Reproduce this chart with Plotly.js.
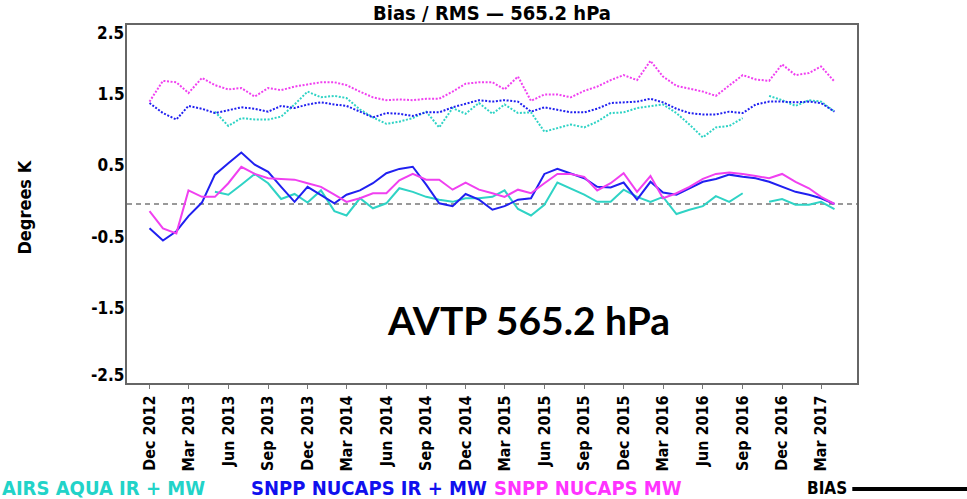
<!DOCTYPE html>
<html>
<head>
<meta charset="utf-8">
<script src="https://cdn.plot.ly/plotly-3.0.1.min.js"></script>
<style>
html,body{margin:0;padding:0;background:#fff;}
#chart{width:967px;height:499px;}
</style>
</head>
<body>
<div id="chart"></div>
<script>
// Monthly dates, Dec 2012 .. Apr 2017
const months = [
 '2012-12-01',
 '2013-01-01','2013-02-01','2013-03-01','2013-04-01','2013-05-01','2013-06-01','2013-07-01','2013-08-01','2013-09-01','2013-10-01','2013-11-01','2013-12-01',
 '2014-01-01','2014-02-01','2014-03-01','2014-04-01','2014-05-01','2014-06-01','2014-07-01','2014-08-01','2014-09-01','2014-10-01','2014-11-01','2014-12-01',
 '2015-01-01','2015-02-01','2015-03-01','2015-04-01','2015-05-01','2015-06-01','2015-07-01','2015-08-01','2015-09-01','2015-10-01','2015-11-01','2015-12-01',
 '2016-01-01','2016-02-01','2016-03-01','2016-04-01','2016-05-01','2016-06-01','2016-07-01','2016-08-01','2016-09-01','2016-10-01','2016-11-01','2016-12-01',
 '2017-01-01','2017-02-01','2017-03-01','2017-04-01'
];

const tickDates = ['2012-12-01','2013-03-01','2013-06-01','2013-09-01','2013-12-01','2014-03-01','2014-06-01','2014-09-01','2014-12-01','2015-03-01','2015-06-01','2015-09-01','2015-12-01','2016-03-01','2016-06-01','2016-09-01','2016-12-01','2017-03-01'];
const tickLabels = ['Dec 2012','Mar 2013','Jun 2013','Sep 2013','Dec 2013','Mar 2014','Jun 2014','Sep 2014','Dec 2014','Mar 2015','Jun 2015','Sep 2015','Dec 2015','Mar 2016','Jun 2016','Sep 2016','Dec 2016','Mar 2017'];
const yTicks = [1.5, 0.5, -0.5, -1.5];
const yTickLabels = ['1.5', '0.5', '-0.5', '-1.5'];
const yEndTicks = [2.5, -2.5];
const yEndLabels = ['2.5', '-2.5'];

// RMS (dotted)
const airsRMS = [null,null,null,null,null,1.29,1.09,1.20,1.18,1.18,1.22,1.39,1.57,1.49,1.51,1.48,1.32,1.21,1.12,1.15,1.20,1.29,1.07,1.34,1.26,1.41,1.26,1.39,1.27,1.28,1.01,1.06,1.11,1.07,1.15,1.27,1.28,1.34,1.37,1.39,1.27,1.11,0.93,1.07,1.09,1.20,null,1.51,1.45,1.37,1.45,1.43,1.29];
const nucapsIrMwRMS = [1.41,1.27,1.18,1.37,1.33,1.27,1.31,1.35,1.33,1.29,1.37,1.34,1.39,1.42,1.39,1.37,1.29,1.21,1.27,1.26,1.23,1.28,1.28,1.35,1.40,1.45,1.43,1.45,1.43,1.29,1.35,1.32,1.28,1.28,1.33,1.41,1.42,1.43,1.47,1.42,1.33,1.27,1.25,1.25,1.29,1.27,1.39,1.43,1.43,1.42,1.43,1.41,1.29];
const nucapsMwRMS = [1.43,1.72,1.70,1.55,1.76,1.66,1.60,1.62,1.50,1.62,1.59,1.64,1.67,1.70,1.70,1.66,1.57,1.49,1.45,1.46,1.45,1.47,1.47,1.57,1.68,1.70,1.70,1.60,1.78,1.44,1.53,1.53,1.49,1.58,1.64,1.73,1.80,1.73,2.00,1.78,1.65,1.61,1.57,1.51,1.66,1.80,1.74,1.72,1.95,1.80,1.83,1.92,1.71];

// BIAS (solid)
const airsBias = [null,null,null,null,null,0.17,0.13,0.27,0.42,0.29,0.07,0.14,0.02,0.19,-0.10,-0.16,0.08,-0.06,0.01,0.22,0.17,0.10,0.06,0.03,0.08,0.08,0.10,0.19,-0.07,-0.16,-0.01,0.30,0.22,0.13,0.03,0.03,0.20,0.10,0.03,0.10,-0.14,-0.08,-0.03,0.11,0.03,0.15,null,0.03,0.07,-0.01,-0.01,0.03,-0.07];
const nucapsIrMwBias = [-0.34,-0.51,-0.38,-0.17,0.02,0.41,0.57,0.72,0.55,0.45,0.24,0.03,0.24,0.13,0.01,0.13,0.19,0.29,0.43,0.49,0.52,0.27,0.01,-0.03,0.14,0.06,-0.08,-0.03,0.06,0.08,0.42,0.49,0.42,0.36,0.24,0.23,0.30,0.06,0.31,0.16,0.13,0.22,0.31,0.35,0.41,0.38,0.36,0.31,0.24,0.17,0.13,0.08,0.00];
const nucapsMwBias = [-0.10,-0.34,-0.41,0.19,0.10,0.10,0.29,0.52,0.42,0.36,0.35,0.34,0.29,0.24,0.13,0.03,0.08,0.15,0.15,0.33,0.42,0.34,0.34,0.20,0.30,0.20,0.15,0.10,0.20,0.15,0.29,0.42,0.42,0.38,0.19,0.29,0.43,0.17,0.39,0.08,0.15,0.24,0.35,0.42,0.44,0.42,0.39,0.36,0.42,0.31,0.22,0.10,0.00];

const seriesNames = ['AIRS AQUA IR + MW', 'SNPP NUCAPS IR + MW', 'SNPP NUCAPS MW'];
const colors = ['#2fd3c5', '#2020f0', '#f040f0'];
const legendColors = ['#22d3c8', '#1010ee', '#ff33ff'];

const FONT = 'DejaVu Sans Condensed, DejaVu Sans, sans-serif';

const rmsSets = [airsRMS, nucapsIrMwRMS, nucapsMwRMS];
const biasSets = [airsBias, nucapsIrMwBias, nucapsMwBias];

const traces = [];
rmsSets.forEach((ys, k) => {
  traces.push({
    x: months, y: ys, type: 'scatter', mode: 'lines', name: seriesNames[k] + ' RMS',
    connectgaps: false,
    line: {color: colors[k], width: 2, dash: '2px,1.6px'},
    hoverinfo: 'skip'
  });
});
biasSets.forEach((ys, k) => {
  traces.push({
    x: months, y: ys, type: 'scatter', mode: 'lines', name: seriesNames[k] + ' BIAS',
    connectgaps: false,
    line: {color: colors[k], width: 2},
    hoverinfo: 'skip'
  });
});

const tickFont = {family: FONT, size: 17, color: '#000', weight: 'bold'};

const annotations = [
  // end labels of the y axis, kept inside the frame as in the reference
  {text: yEndLabels[0], xref: 'paper', yref: 'y', x: 0, y: yEndTicks[0], xanchor: 'right', yanchor: 'top',
   xshift: -1, yshift: 4, showarrow: false, font: tickFont},
  {text: yEndLabels[1], xref: 'paper', yref: 'y', x: 0, y: yEndTicks[1], xanchor: 'right', yanchor: 'bottom',
   xshift: -1, yshift: -4, showarrow: false, font: tickFont},
  {text: 'AVTP 565.2 hPa', xref: 'paper', yref: 'paper', x: (528 - 127.3) / 729.4, y: (383 - 320) / 358,
   xanchor: 'center', yanchor: 'middle', showarrow: false,
   font: {family: 'Lato, Open Sans, sans-serif', size: 39, color: '#000', weight: 'bold'}},
  {text: 'Degrees K', xref: 'paper', yref: 'paper', x: (24 - 127.3) / 729.4, y: (383 - 207) / 358,
   xanchor: 'center', yanchor: 'middle', textangle: -90, showarrow: false,
   font: {family: FONT, size: 18, color: '#000', weight: 'bold'}},
  {text: seriesNames[0], xref: 'paper', yref: 'paper', x: (0 - 127.3) / 729.4, y: (383 - 488) / 358,
   xanchor: 'left', yanchor: 'middle', showarrow: false,
   font: {family: FONT, size: 20, color: legendColors[0], weight: 'bold'}},
  {text: seriesNames[1], xref: 'paper', yref: 'paper', x: (249 - 127.3) / 729.4, y: (383 - 488) / 358,
   xanchor: 'left', yanchor: 'middle', showarrow: false,
   font: {family: FONT, size: 20, color: legendColors[1], weight: 'bold'}},
  {text: seriesNames[2], xref: 'paper', yref: 'paper', x: (492 - 127.3) / 729.4, y: (383 - 488) / 358,
   xanchor: 'left', yanchor: 'middle', showarrow: false,
   font: {family: FONT, size: 20, color: legendColors[2], weight: 'bold'}},
  {text: 'BIAS', xref: 'paper', yref: 'paper', x: (805 - 127.3) / 729.4, y: (383 - 488) / 358,
   xanchor: 'left', yanchor: 'middle', showarrow: false,
   font: {family: FONT, size: 17, color: '#000', weight: 'bold'}}
];

const shapes = [
  {type: 'line', xref: 'paper', yref: 'y', x0: 0, x1: 1, y0: 0, y1: 0,
   line: {color: '#999', width: 2, dash: '5px,4px'}, layer: 'below'},
  {type: 'line', xref: 'paper', yref: 'paper', x0: (852 - 127.3) / 729.4, x1: (967 - 127.3) / 729.4,
   y0: (383 - 489) / 358, y1: (383 - 489) / 358, line: {color: '#000', width: 4}}
];

const layout = {
  width: 967, height: 499,
  margin: {l: 127, r: 110, t: 25, b: 116},
  paper_bgcolor: '#fff', plot_bgcolor: '#fff',
  showlegend: false,
  title: {text: 'Bias / RMS \u2014 565.2 hPa', xref: 'paper', x: 0.5, xanchor: 'center',
          yref: 'container', y: 1 - 13 / 499, yanchor: 'middle',
          font: {family: FONT, size: 20, color: '#000', weight: 'bold'}},
  xaxis: {
    type: 'date', range: ['2012-10-10', '2017-05-23'],
    tickmode: 'array', tickvals: tickDates, ticktext: tickLabels, tickangle: -90,
    ticks: 'outside', ticklen: 4, tickcolor: '#777', tickwidth: 1,
    showgrid: false, zeroline: false,
    showline: true, mirror: true, linecolor: '#666', linewidth: 2,
    tickfont: {family: FONT, size: 16, color: '#000', weight: 'bold'}
  },
  yaxis: {
    range: [-2.5, 2.5], tickmode: 'array', tickvals: yTicks, ticktext: yTickLabels,
    ticks: '', showgrid: false, zeroline: false,
    showline: true, mirror: true, linecolor: '#666', linewidth: 2,
    ticklabelshift: -3, ticklabelstandoff: -3,
    tickfont: tickFont
  },
  annotations: annotations,
  shapes: shapes
};

Plotly.newPlot('chart', traces, layout, {staticPlot: true, displayModeBar: false});
</script>
</body>
</html>
